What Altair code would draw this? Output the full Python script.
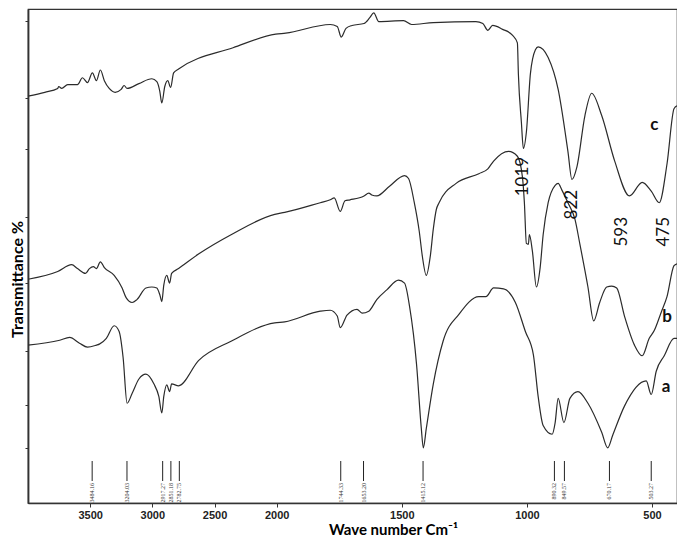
import altair as alt
import pandas as pd

# ---- spectrum c (top) : wavenumber (cm-1), transmittance (offset, a.u. %)
c_wn = [4000, 3865, 3761, 3753, 3729, 3681, 3602, 3562, 3522, 3482, 3450, 3418, 3386, 3347,
        3299, 3251, 3227, 3203, 3108, 3004, 2964, 2940, 2924, 2900, 2876, 2853, 2829, 2789,
        2351, 2008, 1964, 1786, 1758, 1742, 1723, 1699, 1651, 1628, 1612, 1592, 1493, 1461,
        1374, 1204, 1176, 1156, 1137, 1097, 1058, 1038, 1034, 1022, 1014, 1002, 986, 966,
        955, 915, 875, 836, 820, 800, 768, 741, 701, 649, 590, 539, 503, 471, 440, 412, 400]
c_t = [84.0, 84.8, 85.6, 86.0, 85.6, 86.4, 86.4, 87.8, 86.8, 88.8, 87.2, 89.4, 87.2, 85.6,
       84.8, 85.4, 86.2, 85.6, 86.6, 87.6, 87.0, 85.0, 82.6, 86.0, 87.2, 85.8, 88.8, 89.6,
       94.0, 96.8, 97.0, 98.8, 98.4, 96.2, 98.0, 98.6, 99.0, 100.2, 101.2, 99.4, 99.6, 98.8,
       99.2, 99.4, 99.0, 97.6, 98.6, 97.8, 96.6, 95.0, 88.6, 78.6, 73.2, 76.6, 88.6, 93.6,
       94.2, 92.0, 85.4, 72.6, 66.8, 69.4, 80.0, 84.6, 80.0, 70.6, 63.4, 66.2, 64.4, 62.0,
       70.0, 81.4, 82.0]

# ---- spectrum b (middle)
b_wn = [4000, 3761, 3649, 3602, 3538, 3506, 3474, 3450, 3418, 3386, 3307, 3243, 3211, 3163,
        3124, 3052, 3004, 2964, 2940, 2924, 2908, 2884, 2861, 2845, 2789, 2629, 2367, 2016,
        1968, 1826, 1786, 1770, 1746, 1727, 1707, 1651, 1632, 1620, 1600, 1549, 1489, 1473,
        1450, 1430, 1418, 1402, 1386, 1374, 1362, 1351, 1283, 1192, 1156, 1133, 1073, 1038,
        1018, 1010, 1002, 994, 990, 978, 962, 947, 935, 915, 887, 875, 860, 836, 808, 788,
        756, 733, 709, 681, 661, 641, 610, 570, 539, 511, 491, 463, 440, 412, 400]
b_t = [46.2, 47.8, 49.2, 48.4, 47.4, 48.4, 48.8, 48.4, 49.8, 48.6, 47.0, 44.4, 42.4, 41.4,
       42.0, 44.4, 44.6, 44.4, 43.0, 41.6, 45.0, 47.0, 45.4, 47.4, 48.4, 51.4, 55.4, 59.6,
       60.0, 62.0, 62.6, 63.0, 60.2, 62.4, 62.6, 63.4, 64.0, 63.6, 63.4, 65.4, 67.6, 67.0,
       62.0, 56.0, 51.0, 47.0, 51.0, 56.6, 60.6, 62.0, 66.0, 68.0, 69.0, 70.6, 72.6, 71.6,
       67.4, 62.0, 53.6, 53.4, 55.4, 52.0, 44.6, 48.6, 55.4, 62.0, 65.6, 66.0, 64.6, 62.0,
       58.6, 53.4, 44.6, 37.6, 41.4, 44.6, 44.8, 44.4, 38.6, 32.6, 30.4, 34.0, 35.6, 39.4,
       42.6, 49.0, 49.4]

# ---- spectrum a (bottom)
a_wn = [4000, 3745, 3665, 3586, 3522, 3450, 3426, 3370, 3307, 3267, 3235, 3203, 3163, 3108,
        3052, 2988, 2948, 2924, 2908, 2884, 2861, 2845, 2789, 2629, 2367, 2016, 1968, 1826,
        1786, 1758, 1746, 1719, 1679, 1659, 1632, 1600, 1560, 1513, 1489, 1469, 1441, 1422,
        1414, 1402, 1374, 1335, 1271, 1192, 1164, 1133, 1093, 1046, 1006, 974, 955, 935,
        899, 887, 875, 852, 828, 796, 756, 701, 677, 657, 610, 523, 503, 483, 451, 412, 400]
a_t = [32.6, 33.6, 34.2, 33.0, 32.2, 32.6, 32.8, 34.0, 36.6, 35.4, 30.0, 20.6, 22.6, 25.6,
       26.6, 24.6, 22.0, 18.6, 22.0, 24.4, 23.0, 24.6, 24.2, 29.4, 33.4, 37.2, 37.4, 39.6,
       39.8, 38.6, 36.2, 38.8, 40.0, 39.2, 39.6, 42.0, 44.0, 46.0, 45.4, 40.6, 28.6, 15.4,
       11.4, 15.4, 24.6, 33.4, 39.0, 42.6, 42.6, 44.4, 44.2, 41.4, 35.4, 30.6, 22.0, 16.0,
       14.2, 16.6, 21.6, 16.6, 21.6, 23.0, 20.6, 14.6, 11.4, 14.0, 20.0, 25.2, 22.4, 27.2,
       30.4, 34.0, 34.0]

# ---- peak-picking markers at the bottom
peak_wn = [3484, 3204, 2917, 2851, 2783, 1744, 1653, 1415, 890, 850, 670, 503]
peak_txt = ["3484.16", "3204.03", "2917.27", "2851.18", "2782.75", "1744.33", "1653.20",
            "1415.12", "890.32", "849.57", "670.17", "503.27"]

# ---- band annotations
ann_wn = [1014, 820, 618, 451]
ann_t = [67.4, 61.6, 56.0, 56.0]
ann_txt = ["1019", "822", "593", "475"]

# ---- curve letters
lab_wn = [491, 440, 444]
lab_t = [78.0, 38.4, 24.0]
lab_txt = ["c", "b", "a"]

x_ticks = [3500, 3000, 2500, 2000, 1500, 1000, 500]
y_ticks = [99.6, 91.6, 83.6, 75.6, 73.0, 66.2, 59.0, 52.2, 45.4, 38.4, 31.4, 24.4, 20.2, 16.0, 11.4]

W, H = 649, 494

df = pd.concat([
    pd.DataFrame({"wn": c_wn, "T": c_t, "s": "c"}),
    pd.DataFrame({"wn": b_wn, "T": b_t, "s": "b"}),
    pd.DataFrame({"wn": a_wn, "T": a_t, "s": "a"}),
])
peaks = pd.DataFrame({"wn": peak_wn, "txt": peak_txt})
ann = pd.DataFrame({"wn": ann_wn, "T": ann_t, "txt": ann_txt})
labs = pd.DataFrame({"wn": lab_wn, "T": lab_t, "txt": lab_txt})

xscale = alt.Scale(domain=[4000, 2000, 400], range=[0, W * 251 / 655, W], nice=False, zero=False)
yscale = alt.Scale(domain=[0, 102], nice=False, zero=False)

lines = alt.Chart(df).mark_line(color="#2b2b2b", strokeWidth=1.2, interpolate="monotone").encode(
    x=alt.X("wn:Q", scale=xscale,
            axis=alt.Axis(values=x_ticks, format="d", title="Wave number Cm⁻¹", grid=False,
                          labelFont="Liberation Sans", labelFontSize=11, labelFontWeight="bold",
                          labelColor="#222", tickSize=4, labelPadding=2, labelFlush=False,
                          titleFont="Lato", titleFontSize=15, titleFontWeight="bold",
                          titleX=365, titleY=34, titleBaseline="bottom", titleAlign="center",
                          domainWidth=1.5, domainColor="#333", tickColor="#333")),
    y=alt.Y("T:Q", scale=yscale,
            axis=alt.Axis(values=y_ticks, labels=False, title="Transmittance %", grid=False,
                          tickSize=3, tickColor="#333", domainWidth=1.8, domainColor="#333",
                          titleFont="Lato", titleFontSize=16, titleFontWeight="bold",
                          titleX=-11, titleY=270, titleBaseline="middle", titleAlign="center",
                          titleAngle=270)),
    detail="s:N",
)

rules = alt.Chart(peaks).mark_rule(color="#222", strokeWidth=1).encode(
    x="wn:Q", y=alt.value(452), y2=alt.value(472)
)
peak_lbl = alt.Chart(peaks).mark_text(angle=270, align="right", baseline="middle",
                                      fontSize=6, font="Liberation Serif", color="#333").encode(
    x="wn:Q", y=alt.value(474), text="txt:N"
)
ann_lbl = alt.Chart(ann).mark_text(angle=270, align="center", baseline="middle",
                                   fontSize=17, font="Lato", color="#111").encode(
    x="wn:Q", y="T:Q", text="txt:N"
)
curve_lbl = alt.Chart(labs).mark_text(align="center", baseline="middle", fontSize=17,
                                      fontWeight="bold", font="Lato", color="#111").encode(
    x="wn:Q", y="T:Q", text="txt:N"
)

chart = alt.layer(lines, rules, peak_lbl, ann_lbl, curve_lbl).properties(
    width=W, height=H,
    autosize=alt.AutoSizeParams(type="none"),
    padding={"left": 20, "top": 1, "right": 0, "bottom": 34},
).configure_view(stroke="#333", strokeWidth=1.2)

chart.save("out.html", embed_options={"renderer": "svg", "actions": False})
